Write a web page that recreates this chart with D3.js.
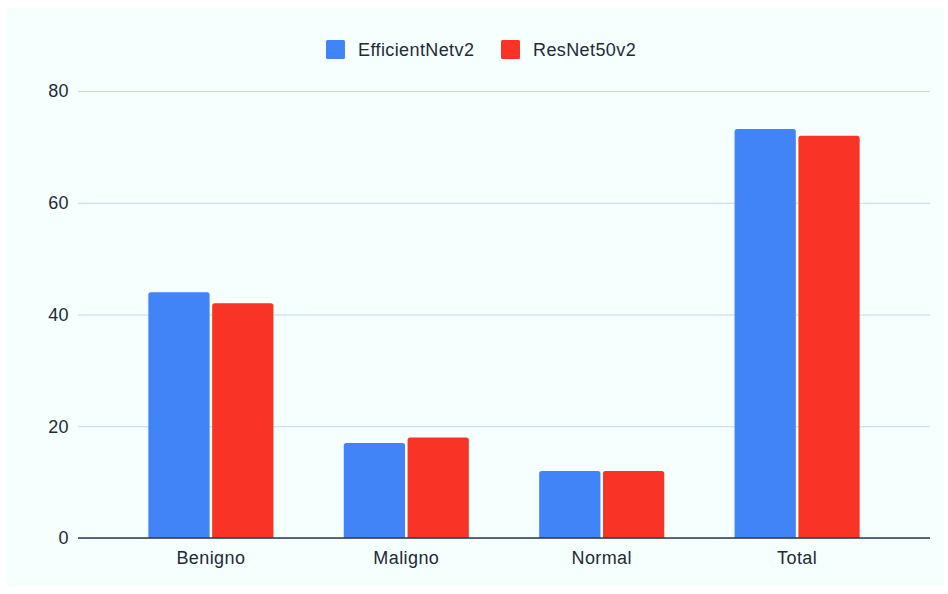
<!DOCTYPE html>
<html>
<head>
<meta charset="utf-8">
<script src="https://cdn.jsdelivr.net/npm/d3@7"></script>
<style>
  html, body { margin: 0; padding: 0; background: #ffffff; }
  svg { display: block; font-family: "Liberation Sans", Arial, sans-serif; }
</style>
</head>
<body>
<svg id="chart" width="948" height="594"></svg>
<script>
// Chart data
const categories = ["Benigno", "Maligno", "Normal", "Total"];
const seriesNames = ["EfficientNetv2", "ResNet50v2"];
const efficientNetValues = [44, 17, 12, 73.2];
const resNetValues = [42, 18, 12, 72];
const yTicks = [0, 20, 40, 60, 80];
const seriesColors = ["#4184f8", "#f93325"];

const seriesValues = [efficientNetValues, resNetValues];
const rows = categories.map((c, i) => ({
  category: c,
  values: seriesNames.map((s, j) => ({ series: s, idx: j, value: seriesValues[j][i] }))
}));

const svg = d3.select("#chart");
const W = 948, H = 594;
const FONT = 18, SPACING = 0.4, TEXT = "#1f2a36";

// Panel background
svg.append("rect")
  .attr("x", 6).attr("y", 8)
  .attr("width", W - 10).attr("height", H - 16)
  .attr("fill", "#f5fffe");

const plot = { left: 78, right: 930, top: 91, bottom: 538 };

const x = d3.scaleBand()
  .domain(categories)
  .range([plot.left, plot.right])
  .paddingInner(0.36)
  .paddingOuter(0.36);

const xInner = d3.scaleBand()
  .domain(seriesNames)
  .range([0, x.bandwidth()])
  .paddingInner(0.04);

const y = d3.scaleLinear()
  .domain([0, 80])
  .range([plot.bottom, plot.top]);

// Gridlines and y labels
const yAxis = d3.axisLeft(y)
  .tickValues(yTicks)
  .tickSize(-(plot.right - plot.left))
  .tickPadding(9)
  .tickFormat(d3.format("d"));

const gy = svg.append("g")
  .attr("transform", `translate(${plot.left},0)`)
  .call(yAxis);
gy.select(".domain").remove();
gy.selectAll(".tick line")
  .attr("stroke", "#c3d5f2")
  .attr("stroke-width", 1.2);
gy.selectAll(".tick text")
  .attr("fill", TEXT)
  .attr("font-size", FONT)
  .attr("letter-spacing", SPACING)
  .attr("font-family", "Liberation Sans, Arial, sans-serif");

// Bars with slightly rounded top corners
function barPath(x0, w, yTop, yBase, r) {
  r = Math.min(r, w / 2, Math.max(0, yBase - yTop));
  return `M${x0},${yBase}V${yTop + r}Q${x0},${yTop} ${x0 + r},${yTop}` +
    `H${x0 + w - r}Q${x0 + w},${yTop} ${x0 + w},${yTop + r}V${yBase}Z`;
}

const groups = svg.append("g").selectAll("g")
  .data(rows)
  .join("g")
  .attr("transform", d => `translate(${x(d.category)},0)`);

groups.selectAll("path")
  .data(d => d.values)
  .join("path")
  .attr("d", d => barPath(xInner(d.series), xInner.bandwidth(), y(d.value), y(0), 2.5))
  .attr("fill", d => seriesColors[d.idx]);

// Baseline and category labels
const xAxis = d3.axisBottom(x).tickSize(0).tickPadding(13);
const gx = svg.append("g")
  .attr("transform", `translate(0,${plot.bottom})`)
  .call(xAxis);
gx.select(".domain")
  .attr("d", `M${plot.left},0H${plot.right}`)
  .attr("stroke", "#2e3a4a")
  .attr("stroke-width", 1.5);
gx.selectAll(".tick text")
  .attr("fill", TEXT)
  .attr("font-size", FONT)
  .attr("letter-spacing", SPACING)
  .attr("font-family", "Liberation Sans, Arial, sans-serif");

// Legend
const legendItems = [
  { name: seriesNames[0], color: seriesColors[0], x: 326 },
  { name: seriesNames[1], color: seriesColors[1], x: 501 }
];
const legend = svg.append("g").selectAll("g")
  .data(legendItems)
  .join("g")
  .attr("transform", d => `translate(${d.x},40)`);
legend.append("rect")
  .attr("width", 19).attr("height", 19)
  .attr("rx", 1.5)
  .attr("fill", d => d.color);
legend.append("text")
  .attr("x", 32).attr("y", 10)
  .attr("dominant-baseline", "central")
  .attr("font-size", FONT)
  .attr("letter-spacing", SPACING)
  .attr("fill", TEXT)
  .text(d => d.name);
</script>
</body>
</html>
